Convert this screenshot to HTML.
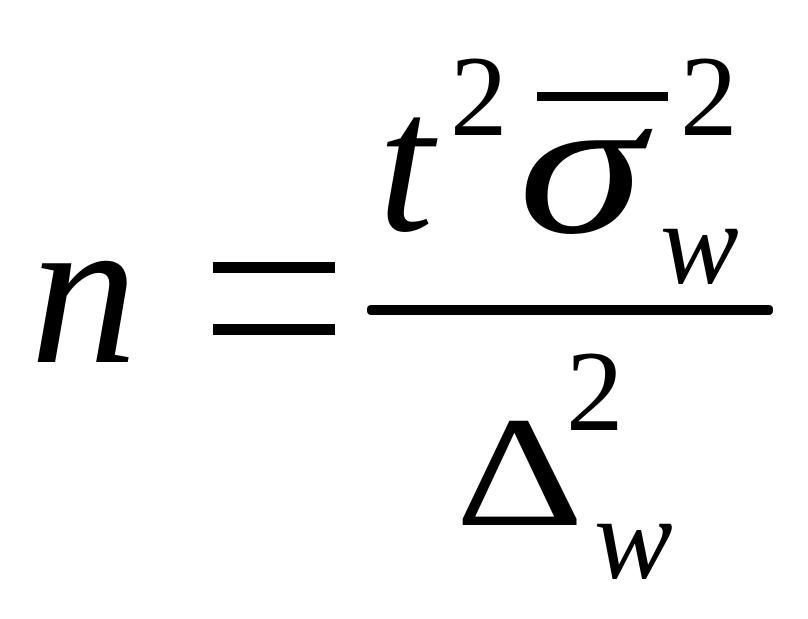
<!DOCTYPE html>
<html><head><meta charset="utf-8"><style>html,body{margin:0;padding:0;background:#fff;}svg{display:block}</style></head>
<body>
<svg width="808" height="619" viewBox="0 0 808 619" xmlns="http://www.w3.org/2000/svg">
<g font-family="Liberation Serif, serif" fill="#000">
<text x="30" y="362" font-size="215" font-style="italic">n</text>
<rect x="213" y="262" width="122" height="11"/>
<rect x="213" y="324" width="122" height="11"/>
<rect x="367" y="305" width="406" height="10" rx="4"/>
<text x="378" y="230" font-size="200" font-style="italic">t</text>
<text x="450" y="135" font-size="115">2</text>
<rect x="537" y="92" width="131" height="9"/>
<text transform="translate(518,232) scale(1.28,1)" x="0" y="0" font-size="200" font-style="italic">σ</text>
<text x="680" y="135" font-size="115">2</text>
<text x="660" y="283" font-size="118" font-style="italic">w</text>
<text transform="translate(455,525) scale(1.27,1)" x="0" y="0" font-size="158">Δ</text>
<text x="566" y="430" font-size="115">2</text>
<text x="594" y="578" font-size="118" font-style="italic">w</text>
</g>
</svg>
</body></html>
